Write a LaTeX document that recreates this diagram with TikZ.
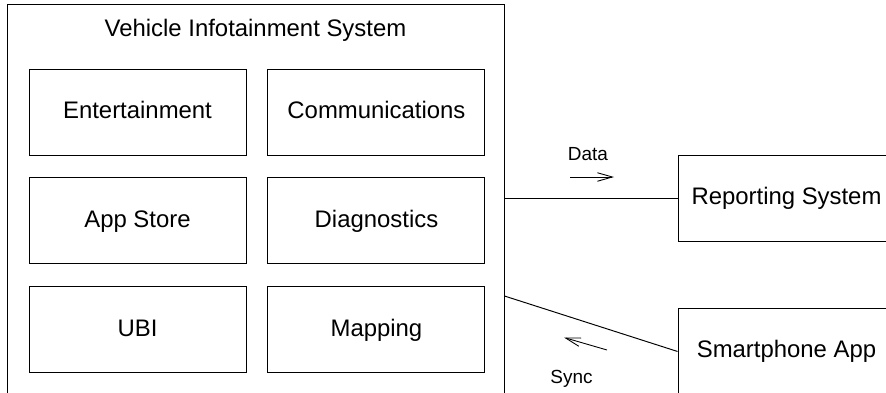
\documentclass[tikz,border=0pt]{standalone}
\usepackage{fontspec}
\setmainfont{Liberation Sans}
\usepackage{tikz}
\usetikzlibrary{
    arrows.meta,
    positioning
}
\tikzset{
  sysbox/.style = {draw, line width=0.55pt, minimum width=9.94cm,
                   minimum height=7.92cm},
  block/.style  = {draw, line width=0.55pt, minimum width=4.34cm,
                   minimum height=1.72cm, align=center,
                   text height=0.72em, text depth=0pt,
                   font=\fontsize{13.6}{16}\selectfont},
  lbl/.style    = {inner sep=0pt, font=\fontsize{10.8}{13}\selectfont},
  link/.style   = {line width=0.55pt},
  flow/.style   = {-{Straight Barb[length=0.3cm, width=0.17cm]}, line width=0.5pt}
}

\begin{document}
\begin{tikzpicture}
  \clip (0,0) rectangle (17.72,7.84);

  % outer system frame
  \node[sysbox] (sys) at (5.11,3.8) {};
  \node[anchor=base, inner sep=0pt, font=\fontsize{13.6}{16}\selectfont]
    (systitle) at (5.11,7.12) {Vehicle Infotainment System};

  % modules inside the system
  \node[block] (ent) at (2.75,5.6) {Entertainment};
  \node[block, right=0.42cm of ent] (com) {Communications};
  \node[block, below=0.44cm of ent] (app) {App Store};
  \node[block, right=0.42cm of app] (diag) {Diagnostics};
  \node[block, below=0.44cm of app] (ubi) {UBI};
  \node[block, right=0.42cm of ubi] (map) {Mapping};

  % external parties
  \node[block] (rep) at (15.73,3.87) {Reporting System};
  \node[block, below=1.32cm of rep] (phone) {Smartphone App};

  % links
  \coordinate (sysport) at ([yshift=-1.88cm]sys.east);
  \draw[link] (sys.east |- rep.west) -- (rep.west);
  \draw[link] (sysport) -- (phone.west);

  % flow directions
  \node[lbl] (datalbl) at (11.76,4.75) {Data};
  \coordinate (datatail) at (11.40,4.30);
  \coordinate (datahead) at (12.28,4.30);
  \draw[flow] (datatail) -- (datahead);

  \node[lbl, anchor=base] (synclbl) at (11.43,0.17) {Sync};
  \coordinate (synctail) at (12.14,0.84);
  \coordinate (synchead) at (11.28,1.09);
  \draw[flow] (synctail) -- (synchead);
\end{tikzpicture}
\end{document}
